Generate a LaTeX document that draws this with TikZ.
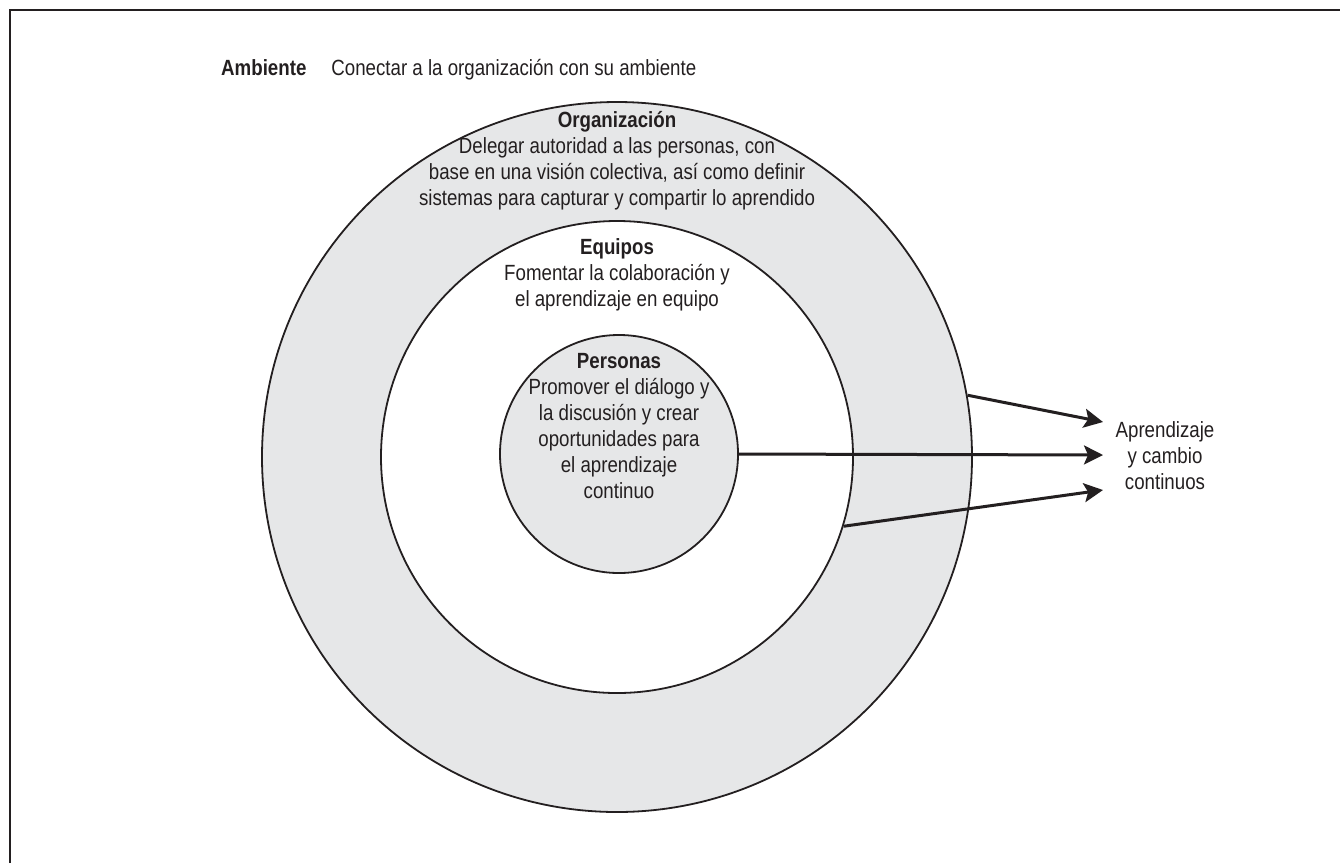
\documentclass[tikz,border=0pt]{standalone}
\usepackage{fontspec}
\setmainfont{Liberation Sans}[FakeStretch=0.85]
\usetikzlibrary{arrows.meta}
\definecolor{ink}{HTML}{231F20}
\definecolor{band}{HTML}{E6E7E8}
\begin{document}
\begin{tikzpicture}[x=1pt,y=-1pt,
  txt/.style={font=\fontsize{22}{26}\selectfont, text=ink, inner sep=0pt, align=center},
  ring/.style={circle, draw=ink, line width=1.8pt, inner sep=0pt},
  flow/.style={draw=ink, line width=3pt, -{Stealth[length=19pt,width=19pt,inset=4pt]}}]
\useasboundingbox (0,0) rectangle (1340,863);
\draw[ink, line width=2.6pt] (10,863) -- (10,10) -- (1340,10);
\node[ring, fill=band, minimum size=710pt] (org) at (617,457) {};
\node[ring, fill=white, minimum size=472pt] (eq) at (617,457) {};
\node[ring, fill=band, minimum size=238pt] (per) at (619,454) {};
\node[txt, anchor=base west] (amb) at (221,75) {\textbf{Ambiente}\hspace{25pt}Conectar a la organización con su ambiente};
\node[txt, anchor=north] (orgt) at (617,111) {\textbf{Organización}\\Delegar autoridad a las personas, con\\base en una visión colectiva, así como definir\\sistemas para capturar y compartir lo aprendido};
\node[txt, anchor=north] (eqt) at (617,238) {\textbf{Equipos}\\Fomentar la colaboración y\\el aprendizaje en equipo};
\node[txt, anchor=north] (pert) at (619,353) {\textbf{Personas}\\Promover el diálogo y\\la discusión y crear\\oportunidades para\\el aprendizaje\\continuo};
\node[txt, anchor=north] (res) at (1165,421) {Aprendizaje\\y cambio\\continuos};
\coordinate (t1) at (1103,422);
\coordinate (t2) at (1103,455);
\coordinate (t3) at (1103,490);
\draw[flow] (org.10.6) -- (t1);
\draw[flow] (per.east) -- (t2);
\draw[flow] (eq.-17.7) -- (t3);
\end{tikzpicture}
\end{document}
